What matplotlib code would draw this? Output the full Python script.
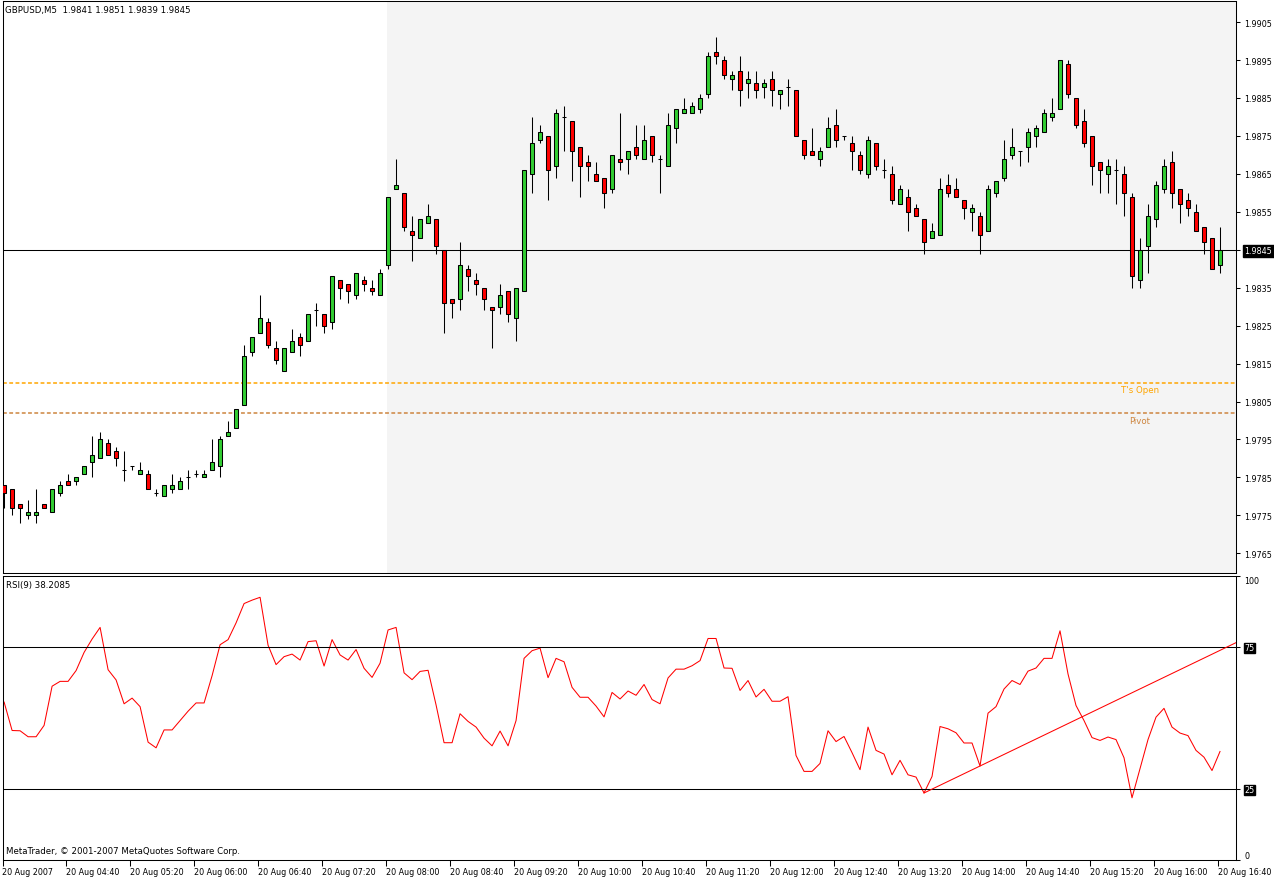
import numpy as np
import matplotlib
matplotlib.use('Agg')
import matplotlib.pyplot as plt

# ------------------------------------------------------------
# Data (GBPUSD, M5, 20 Aug 2007 04:00-16:40)
# ------------------------------------------------------------
symbol = "GBPUSD,M5"

opens = [
    1.9783, 1.9782, 1.9778, 1.9775, 1.9775, 1.9778, 1.9776, 1.9781, 1.9784, 1.9784,
    1.9786, 1.9789, 1.9790, 1.9794, 1.9792, 1.9787, 1.9788, 1.9786, 1.9786, 1.9781,
    1.9780, 1.9782, 1.9782, 1.9785, 1.9786, 1.9785, 1.9787, 1.9788, 1.9796, 1.9798,
    1.9804, 1.9818, 1.9823, 1.9826, 1.9819, 1.9813, 1.9818, 1.9822, 1.9821, 1.9829,
    1.9828, 1.9826, 1.9837, 1.9836, 1.9833, 1.9837, 1.9835, 1.9833, 1.9841, 1.9861,
    1.9860, 1.9850, 1.9848, 1.9852, 1.9853, 1.9845, 1.9832, 1.9832, 1.9840, 1.9837,
    1.9835, 1.9830, 1.9830, 1.9834, 1.9827, 1.9834, 1.9865, 1.9874, 1.9875, 1.9867,
    1.9880, 1.9879, 1.9872, 1.9868, 1.9865, 1.9864, 1.9861, 1.9869, 1.9869, 1.9872,
    1.9869, 1.9875, 1.9869, 1.9867, 1.9877, 1.9881, 1.9881, 1.9882, 1.9886, 1.9897,
    1.9895, 1.9890, 1.9892, 1.9889, 1.9889, 1.9888, 1.9890, 1.9886, 1.9888, 1.9887,
    1.9874, 1.9871, 1.9869, 1.9872, 1.9878, 1.9875, 1.9873, 1.9870, 1.9865, 1.9873,
    1.9866, 1.9865, 1.9857, 1.9859, 1.9856, 1.9853, 1.9848, 1.9849, 1.9862, 1.9861,
    1.9858, 1.9855, 1.9854, 1.9850, 1.9860, 1.9864, 1.9870, 1.9871, 1.9872, 1.9875,
    1.9876, 1.9880, 1.9882, 1.9894, 1.9885, 1.9879, 1.9875, 1.9868, 1.9865, 1.9866,
    1.9865, 1.9859, 1.9837, 1.9846, 1.9853, 1.9861, 1.9868, 1.9861, 1.9858, 1.9855,
    1.9851, 1.9848, 1.9841,
]
highs = [
    1.9783, 1.9782, 1.9778, 1.9779, 1.9782, 1.9778, 1.9782, 1.9784, 1.9786, 1.9785,
    1.9788, 1.9796, 1.9797, 1.9795, 1.9793, 1.9792, 1.9788, 1.9789, 1.9787, 1.9782,
    1.9783, 1.9786, 1.9785, 1.9787, 1.9787, 1.9787, 1.9795, 1.9796, 1.9800, 1.9803,
    1.9820, 1.9822, 1.9833, 1.9827, 1.9821, 1.9819, 1.9824, 1.9823, 1.9828, 1.9831,
    1.9828, 1.9838, 1.9837, 1.9836, 1.9839, 1.9838, 1.9837, 1.9840, 1.9859, 1.9869,
    1.9860, 1.9854, 1.9853, 1.9857, 1.9853, 1.9845, 1.9832, 1.9847, 1.9841, 1.9839,
    1.9835, 1.9830, 1.9836, 1.9834, 1.9835, 1.9866, 1.9880, 1.9878, 1.9875, 1.9882,
    1.9883, 1.9879, 1.9872, 1.9870, 1.9868, 1.9864, 1.9870, 1.9881, 1.9871, 1.9878,
    1.9878, 1.9875, 1.9870, 1.9881, 1.9882, 1.9885, 1.9884, 1.9886, 1.9897, 1.9901,
    1.9896, 1.9892, 1.9896, 1.9892, 1.9892, 1.9890, 1.9892, 1.9887, 1.9890, 1.9887,
    1.9874, 1.9877, 1.9872, 1.9880, 1.9882, 1.9875, 1.9875, 1.9871, 1.9875, 1.9873,
    1.9869, 1.9867, 1.9862, 1.9861, 1.9857, 1.9853, 1.9852, 1.9864, 1.9865, 1.9864,
    1.9858, 1.9857, 1.9855, 1.9862, 1.9863, 1.9874, 1.9877, 1.9871, 1.9877, 1.9878,
    1.9882, 1.9885, 1.9895, 1.9895, 1.9885, 1.9882, 1.9875, 1.9868, 1.9869, 1.9869,
    1.9867, 1.9860, 1.9848, 1.9857, 1.9863, 1.9869, 1.9871, 1.9861, 1.9860, 1.9857,
    1.9851, 1.9848, 1.9851,
]
lows = [
    1.9777, 1.9775, 1.9773, 1.9774, 1.9773, 1.9777, 1.9776, 1.9780, 1.9783, 1.9783,
    1.9786, 1.9785, 1.9790, 1.9791, 1.9788, 1.9784, 1.9787, 1.9786, 1.9782, 1.9780,
    1.9780, 1.9781, 1.9782, 1.9782, 1.9785, 1.9785, 1.9787, 1.9785, 1.9796, 1.9798,
    1.9804, 1.9817, 1.9823, 1.9819, 1.9815, 1.9813, 1.9818, 1.9817, 1.9821, 1.9825,
    1.9823, 1.9824, 1.9832, 1.9831, 1.9832, 1.9834, 1.9833, 1.9833, 1.9840, 1.9861,
    1.9850, 1.9842, 1.9848, 1.9852, 1.9844, 1.9823, 1.9827, 1.9829, 1.9834, 1.9833,
    1.9829, 1.9819, 1.9828, 1.9826, 1.9821, 1.9834, 1.9860, 1.9873, 1.9858, 1.9864,
    1.9871, 1.9863, 1.9859, 1.9863, 1.9863, 1.9856, 1.9860, 1.9866, 1.9865, 1.9869,
    1.9869, 1.9868, 1.9860, 1.9867, 1.9873, 1.9881, 1.9881, 1.9881, 1.9885, 1.9894,
    1.9890, 1.9887, 1.9883, 1.9885, 1.9885, 1.9885, 1.9883, 1.9882, 1.9883, 1.9875,
    1.9869, 1.9870, 1.9867, 1.9872, 1.9872, 1.9874, 1.9866, 1.9865, 1.9864, 1.9866,
    1.9864, 1.9857, 1.9857, 1.9850, 1.9854, 1.9844, 1.9848, 1.9849, 1.9859, 1.9859,
    1.9853, 1.9850, 1.9844, 1.9850, 1.9859, 1.9863, 1.9869, 1.9867, 1.9868, 1.9872,
    1.9876, 1.9879, 1.9882, 1.9885, 1.9877, 1.9872, 1.9862, 1.9860, 1.9860, 1.9857,
    1.9854, 1.9835, 1.9835, 1.9839, 1.9851, 1.9860, 1.9856, 1.9852, 1.9854, 1.9850,
    1.9844, 1.9840, 1.9839,
]
closes = [
    1.9781, 1.9777, 1.9777, 1.9776, 1.9776, 1.9777, 1.9782, 1.9783, 1.9783, 1.9785,
    1.9788, 1.9791, 1.9795, 1.9791, 1.9790, 1.9787, 1.9788, 1.9787, 1.9782, 1.9781,
    1.9783, 1.9783, 1.9784, 1.9785, 1.9786, 1.9786, 1.9789, 1.9795, 1.9797, 1.9803,
    1.9817, 1.9822, 1.9827, 1.9820, 1.9816, 1.9819, 1.9821, 1.9820, 1.9828, 1.9829,
    1.9825, 1.9838, 1.9835, 1.9834, 1.9839, 1.9836, 1.9834, 1.9839, 1.9859, 1.9862,
    1.9851, 1.9849, 1.9853, 1.9854, 1.9846, 1.9831, 1.9831, 1.9841, 1.9838, 1.9836,
    1.9832, 1.9829, 1.9833, 1.9828, 1.9835, 1.9866, 1.9873, 1.9876, 1.9866, 1.9881,
    1.9880, 1.9871, 1.9867, 1.9867, 1.9863, 1.9860, 1.9870, 1.9868, 1.9871, 1.9870,
    1.9874, 1.9870, 1.9869, 1.9878, 1.9882, 1.9882, 1.9883, 1.9885, 1.9896, 1.9896,
    1.9891, 1.9891, 1.9887, 1.9890, 1.9887, 1.9889, 1.9887, 1.9887, 1.9888, 1.9875,
    1.9870, 1.9870, 1.9871, 1.9877, 1.9874, 1.9875, 1.9871, 1.9866, 1.9874, 1.9867,
    1.9866, 1.9858, 1.9861, 1.9855, 1.9854, 1.9847, 1.9850, 1.9861, 1.9860, 1.9859,
    1.9856, 1.9856, 1.9849, 1.9861, 1.9863, 1.9869, 1.9872, 1.9871, 1.9876, 1.9877,
    1.9881, 1.9881, 1.9895, 1.9886, 1.9878, 1.9873, 1.9867, 1.9866, 1.9867, 1.9866,
    1.9860, 1.9838, 1.9845, 1.9854, 1.9862, 1.9867, 1.9860, 1.9857, 1.9856, 1.9850,
    1.9847, 1.9840, 1.9845,
]
rsi9 = [
    55.6, 45.6, 45.5, 43.4, 43.4, 47.4, 61.2, 62.9, 62.9, 66.7,
    73.1, 77.8, 81.9, 67.0, 63.4, 55.0, 57.0, 54.0, 41.5, 39.5,
    45.8, 45.8, 49.1, 52.4, 55.3, 55.3, 64.9, 75.8, 77.6, 83.5,
    90.3, 91.5, 92.5, 75.6, 68.8, 71.6, 72.5, 70.4, 76.9, 77.2,
    68.3, 77.6, 72.2, 70.4, 74.1, 67.5, 64.3, 69.3, 81.0, 81.9,
    65.9, 63.5, 66.4, 66.8, 54.6, 41.3, 41.3, 51.5, 48.8, 46.8,
    42.9, 40.2, 45.4, 40.2, 49.1, 71.0, 73.7, 74.6, 64.2, 71.0,
    69.8, 60.8, 57.3, 57.3, 54.2, 50.4, 59.0, 56.7, 59.5, 58.0,
    61.8, 56.5, 55.0, 64.1, 67.2, 67.2, 68.4, 70.2, 78.0, 78.0,
    67.6, 67.5, 59.7, 63.2, 57.4, 60.1, 55.9, 55.9, 57.5, 36.8,
    31.2, 31.2, 34.0, 45.5, 41.7, 43.5, 37.8, 31.8, 46.8, 38.6,
    37.3, 30.0, 35.1, 30.0, 29.2, 23.6, 29.4, 47.0, 46.2, 44.8,
    41.2, 41.2, 33.1, 51.7, 54.0, 60.2, 63.2, 61.8, 66.5, 67.6,
    71.0, 71.0, 80.7, 65.5, 54.4, 49.1, 43.1, 42.1, 43.3, 42.4,
    36.0, 21.9, 32.1, 42.4, 50.3, 53.4, 46.8, 44.7, 43.8, 38.6,
    36.2, 31.5, 38.2085,
]
time_labels = [
    "20 Aug 2007", "20 Aug 04:40", "20 Aug 05:20", "20 Aug 06:00", "20 Aug 06:40",
    "20 Aug 07:20", "20 Aug 08:00", "20 Aug 08:40", "20 Aug 09:20", "20 Aug 10:00",
    "20 Aug 10:40", "20 Aug 11:20", "20 Aug 12:00", "20 Aug 12:40", "20 Aug 13:20",
    "20 Aug 14:00", "20 Aug 14:40", "20 Aug 15:20", "20 Aug 16:00", "20 Aug 16:40",
]
label_step = 8                  # one label every 8 bars (40 min)
price_ticks = [round(1.9765 + 0.001 * k, 4) for k in range(15)]
rsi_ticks = [0, 25, 75, 100]
rsi_levels = [25, 75]
t_open_level = 1.9810
pivot_level = 1.9802
session_start = 48              # 08:00 bar, start of shaded area
trend_anchors = [115, 122]      # RSI trend line drawn through these bars

# ------------------------------------------------------------
# Style
# ------------------------------------------------------------
UP = '#32cd32'
DOWN = '#ff0000'
SHADE = '#f4f4f4'
ORANGE = '#ffa500'
PIVOT = '#cd853f'
LW = 0.75

plt.rcParams['font.family'] = ['DejaVu Sans']
plt.rcParams['font.size'] = 6

W, H = 1274, 878
fig = plt.figure(figsize=(W / 100, H / 100), dpi=100)
fig.patch.set_facecolor('white')


def px_axes(x0, y0, x1, y1):
    return fig.add_axes([x0 / W, 1 - y1 / H, (x1 - x0) / W, (y1 - y0) / H])


ax = px_axes(2.5, 2, 1236, 574)
ax_rsi = px_axes(2.5, 577, 1236, 861)

n = len(closes)
idx = np.arange(n)
o = np.array(opens)
c = np.array(closes)
hi = np.array(highs)
lo = np.array(lows)
colors = np.where(c >= o, UP, DOWN)
xlim = (-0.19, 154.0)

# ============================================================
# Price panel
# ============================================================
ax.axvspan(session_start - 0.1, xlim[1] + 1, color=SHADE, lw=0, zorder=0)
ax.vlines(idx, lo, hi, color='black', lw=LW, zorder=2)
ax.bar(idx, np.abs(c - o), bottom=np.minimum(o, c), width=0.5,
       color=colors, edgecolor='black', linewidth=LW, zorder=3)

ax.axhline(closes[-1], color='black', lw=LW, zorder=1)
ax.axhline(t_open_level, color=ORANGE, lw=1.1, ls=(0, (2.5, 1.6)), zorder=1)
ax.axhline(pivot_level, color=PIVOT, lw=1.1, ls=(0, (2.5, 1.6)), zorder=1)
ax.annotate("T's Open", (142, t_open_level), xytext=(0, -2),
            textcoords='offset points', ha='center', va='top',
            color=ORANGE, fontsize=6.2)
ax.annotate("Pivot", (142, pivot_level), xytext=(0, -2),
            textcoords='offset points', ha='center', va='top',
            color=PIVOT, fontsize=6.2)

ax.set_xlim(*xlim)
ax.set_ylim(1.975982, 1.991055)
ax.set_xticks([])
ax.yaxis.tick_right()
ax.set_yticks(price_ticks, [f"{v:.4f}" for v in price_ticks])
ax.tick_params(axis='y', direction='out', length=3, width=LW, pad=3,
               labelsize=5.8)
for tick, v in zip(ax.yaxis.get_major_ticks(), price_ticks):
    if abs(v - closes[-1]) < 1e-6:
        tick.label2.set_color('white')
        tick.label2.set_bbox(dict(boxstyle='square,pad=0.2',
                                  fc='black', ec='black'))

# ============================================================
# RSI panel
# ============================================================
ax_rsi.plot(idx, rsi9, color='red', lw=LW)
for lvl in rsi_levels:
    ax_rsi.axhline(lvl, color='black', lw=LW)

i0, i1 = trend_anchors
slope = (rsi9[i1] - rsi9[i0]) / (i1 - i0)
ax_rsi.plot([i0, xlim[1]], [rsi9[i0], rsi9[i0] + slope * (xlim[1] - i0)],
            color='red', lw=LW)

ax_rsi.set_xlim(*xlim)
ax_rsi.set_ylim(0, 100)
ax_rsi.yaxis.tick_right()
ax_rsi.set_yticks(rsi_ticks, [str(v) for v in rsi_ticks])
ax_rsi.tick_params(axis='y', direction='out', length=3, width=LW, pad=3,
                   labelsize=5.8)
for tick, v in zip(ax_rsi.yaxis.get_major_ticks(), rsi_ticks):
    if v in rsi_levels:
        tick.label2.set_color('white')
        tick.label2.set_bbox(dict(boxstyle='square,pad=0.1',
                                  fc='black', ec='black'))
    elif v == 100:
        tick.label2.set_va('top')
    elif v == 0:
        tick.label2.set_va('bottom')

label_pos = np.arange(0, n, label_step) - 0.2
ax_rsi.set_xticks(label_pos, time_labels)
ax_rsi.tick_params(axis='x', direction='out', length=4, width=LW, pad=1,
                   labelsize=5.8)
for lbl in ax_rsi.get_xticklabels():
    lbl.set_ha('left')

for a in (ax, ax_rsi):
    for sp in a.spines.values():
        sp.set_linewidth(LW)
        sp.set_color('black')

# ============================================================
# Texts
# ============================================================
fig.text(5 / W, 1 - 10 / H,
         f"{symbol}  {opens[-1]:.4f} {highs[-1]:.4f} {lows[-1]:.4f} {closes[-1]:.4f}",
         ha='left', va='center', fontsize=6.2)
ax_rsi.text(4 / (1236 - 2.5), 1 - 9 / 284, f"RSI(9) {rsi9[-1]:.4f}",
            transform=ax_rsi.transAxes, ha='left', va='center', fontsize=6.2)
ax_rsi.text(3 / (1236 - 2.5), 9 / 284,
            "MetaTrader, \u00a9 2001-2007 MetaQuotes Software Corp.",
            transform=ax_rsi.transAxes, ha='left', va='center', fontsize=6.2)

fig.savefig('out.png', dpi=100, facecolor='white')
